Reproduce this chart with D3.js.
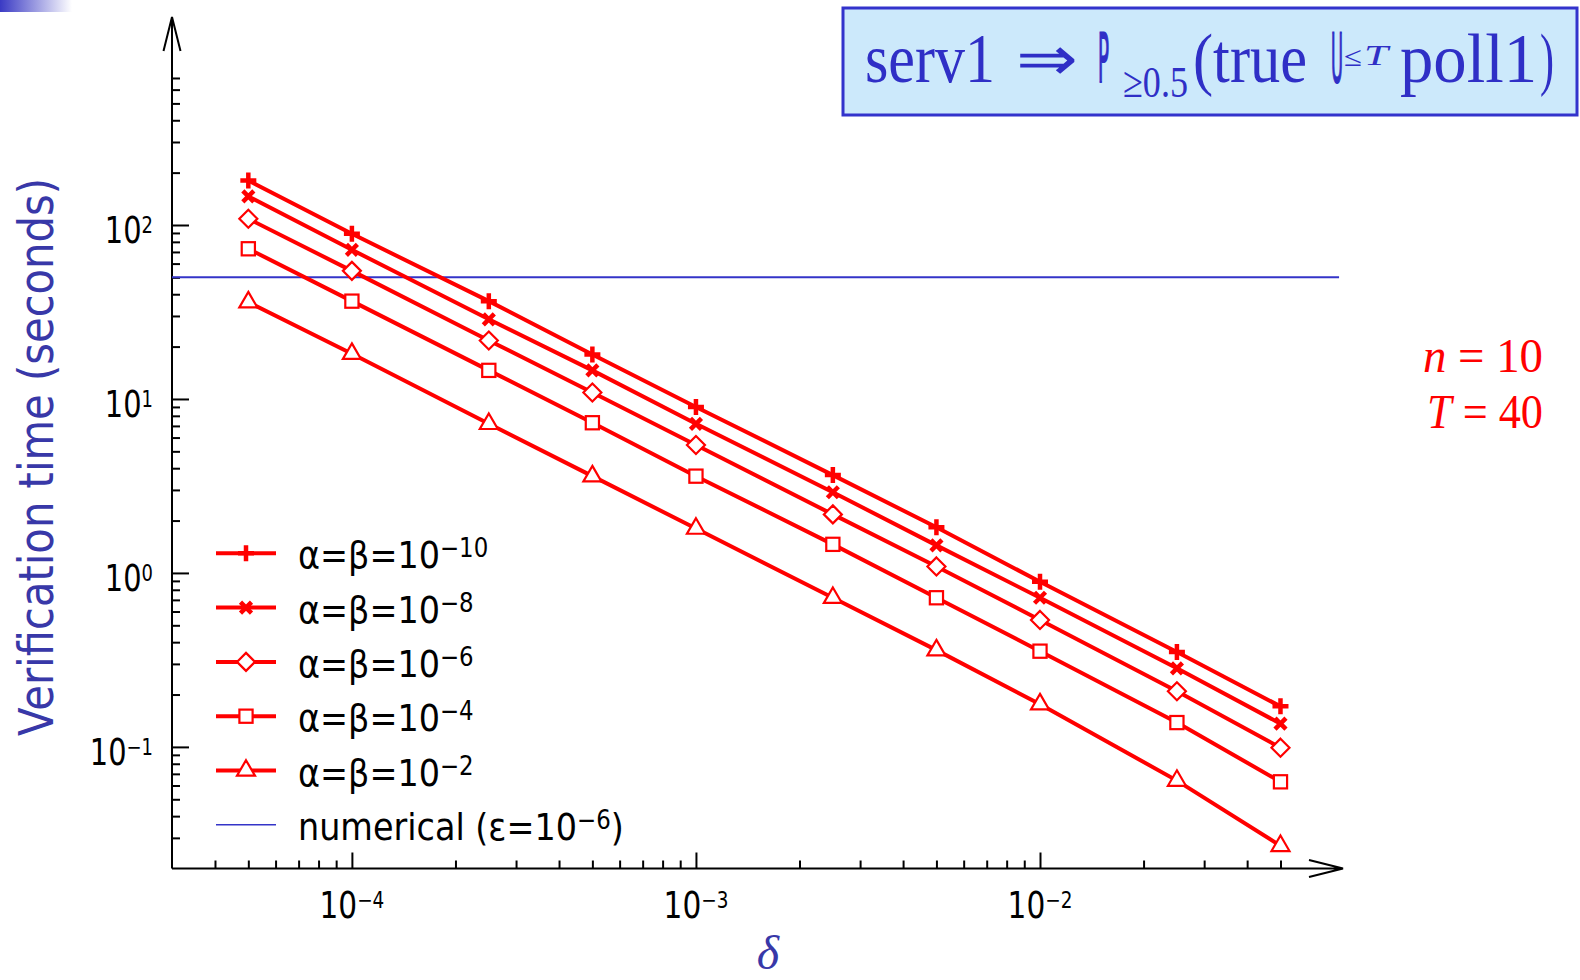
<!DOCTYPE html>
<html>
<head>
<meta charset="utf-8">
<script src="https://cdn.jsdelivr.net/npm/d3@7"></script>
<style>
  body { margin: 0; background: #fff; }
  svg { display: block; }
</style>
</head>
<body>
<svg id="chart" width="1580" height="980"></svg>
<script>
// delta values on the x axis
const deltas = [5e-5, 1e-4, 2.5e-4, 5e-4, 1e-3, 2.5e-3, 5e-3, 1e-2, 2.5e-2, 5e-2]

// verification time (seconds), one list per alpha = beta
const timeA10 = [180, 89, 36.5, 18.0, 9.0, 3.65, 1.83, 0.89, 0.351, 0.171]
const timeA8 = [146, 72, 28.7, 14.6, 7.2, 2.91, 1.44, 0.72, 0.283, 0.136]
const timeA6 = [108.6, 54.5, 21.7, 10.9, 5.44, 2.17, 1.09, 0.537, 0.209, 0.099]
const timeA4 = [73, 36.5, 14.6, 7.3, 3.6, 1.46, 0.72, 0.355, 0.138, 0.063]
const timeA2 = [36, 18.2, 7.2, 3.6, 1.8, 0.72, 0.36, 0.176, 0.064, 0.027]

const seriesExps = ['−10', '−8', '−6', '−4', '−2']
const seriesMarkers = ['plus', 'cross', 'diamond', 'square', 'triangle']

// numerical method, constant time
const numericalTime = 50
const numericalRange = [3e-5, 0.074]

const xMajorTicks = [1e-4, 1e-3, 1e-2]
const xMajorExps = ['−4', '−3', '−2']
const xMinorTicks = [4e-5, 5e-5, 6e-5, 7e-5, 8e-5, 9e-5,
    2e-4, 3e-4, 4e-4, 5e-4, 6e-4, 7e-4, 8e-4, 9e-4,
    2e-3, 3e-3, 4e-3, 5e-3, 6e-3, 7e-3, 8e-3, 9e-3,
    2e-2, 3e-2, 4e-2, 5e-2]

const yMajorTicks = [0.1, 1, 10, 100]
const yMajorExps = ['−1', '0', '1', '2']
const yMinorTicks = [0.03, 0.04, 0.05, 0.06, 0.07, 0.08, 0.09,
    0.2, 0.3, 0.4, 0.5, 0.6, 0.7, 0.8, 0.9,
    2, 3, 4, 5, 6, 7, 8, 9,
    20, 30, 40, 50, 60, 70, 80, 90,
    200, 300, 400, 500, 600, 700]

const series = [timeA10, timeA8, timeA6, timeA4, timeA2]

const red = '#ff0000'
const blueLine = '#3434c8'
const blueText = '#3838a8'
const sans = 'DejaVu Sans, Verdana, sans-serif'
const serif = 'Liberation Serif, Times New Roman, serif'

const svg = d3.select('#chart')

const x = d3.scaleLog().domain([3e-5, 1e-2]).range([172, 1040])
const y = d3.scaleLog().domain([0.02, 100]).range([868.5, 225])
const xEnd = 1343
const yTop = 17

// shrink a text horizontally so it takes the given width
function fitWidth(text, width) {
    const w = text.node().getComputedTextLength()
    const t = text.attr('transform') || ''
    text.attr('transform', t + ` scale(${width / w},1)`)
    return text
}

// top-left slide decoration
const grad = svg.append('defs').append('linearGradient').attr('id', 'corner')
grad.append('stop').attr('offset', '0%').attr('stop-color', '#3a3ac4')
grad.append('stop').attr('offset', '100%').attr('stop-color', '#ffffff')
svg.append('rect').attr('x', 0).attr('y', 0).attr('width', 72).attr('height', 12)
    .attr('fill', 'url(#corner)')

// axes
const axes = svg.append('g')

const xMinor = d3.axisBottom(x).tickValues(xMinorTicks).tickSizeInner(-8).tickSizeOuter(0).tickFormat('')
const xMajor = d3.axisBottom(x).tickValues(xMajorTicks).tickSizeInner(-16).tickSizeOuter(0).tickFormat('')
const yMinor = d3.axisLeft(y).tickValues(yMinorTicks).tickSizeInner(-8).tickSizeOuter(0).tickFormat('')
const yMajor = d3.axisLeft(y).tickValues(yMajorTicks).tickSizeInner(-17).tickSizeOuter(0).tickFormat('')

const x0 = x.range()[0]
const y0 = y.range()[0]

;[xMinor, xMajor].forEach(a => {
    axes.append('g').attr('transform', `translate(0,${y0})`).call(a)
})
;[yMinor, yMajor].forEach(a => {
    axes.append('g').attr('transform', `translate(${x0},0)`).call(a)
})
axes.selectAll('.domain').remove()
axes.selectAll('.tick line').attr('stroke', '#000').attr('stroke-width', 2)

axes.append('path')
    .attr('d', `M${x0},${y0}H${xEnd}M${xEnd - 34},${y0 - 8.5}L${xEnd},${y0}L${xEnd - 34},${y0 + 8.5}`)
    .attr('fill', 'none').attr('stroke', '#000').attr('stroke-width', 2)
axes.append('path')
    .attr('d', `M${x0},${y0}V${yTop}M${x0 - 8.5},${yTop + 34}L${x0},${yTop}L${x0 + 8.5},${yTop + 34}`)
    .attr('fill', 'none').attr('stroke', '#000').attr('stroke-width', 2)

// tick labels 10^k
function powLabel(px, py, exp, anchor, sx) {
    const t = svg.append('text')
        .attr('transform', `translate(${px},${py}) scale(${sx},1)`)
        .attr('text-anchor', anchor)
        .attr('font-family', sans)
        .attr('font-size', 37)
        .attr('fill', '#000')
    t.append('tspan').text('10')
    t.append('tspan').attr('dy', -10).attr('font-size', 23).text(exp)
}
xMajorTicks.forEach((d, i) => powLabel(x(d), 918, xMajorExps[i], 'middle', 0.8))
yMajorTicks.forEach((d, i) => powLabel(153, y(d) + 18, yMajorExps[i], 'end', 0.78))

// numerical line
const plot = svg.append('g')
plot.append('line')
    .attr('x1', x(numericalRange[0])).attr('x2', x(numericalRange[1]))
    .attr('y1', y(numericalTime)).attr('y2', y(numericalTime))
    .attr('stroke', blueLine).attr('stroke-width', 2)

// markers
function drawMarker(g, type) {
    if (type === 'plus') {
        g.append('path').attr('d', 'M-8,0H8M0,-8V8')
            .attr('stroke', red).attr('stroke-width', 4.5).attr('fill', 'none')
    } else if (type === 'cross') {
        g.append('path').attr('d', 'M-5.5,-5.5L5.5,5.5M-5.5,5.5L5.5,-5.5')
            .attr('stroke', red).attr('stroke-width', 4.5).attr('fill', 'none')
    } else if (type === 'diamond') {
        g.append('path').attr('d', 'M0,-9L9,0L0,9L-9,0Z')
            .attr('stroke', red).attr('stroke-width', 2.2).attr('fill', '#fff')
    } else if (type === 'square') {
        g.append('rect').attr('x', -6.6).attr('y', -6.6).attr('width', 13.2).attr('height', 13.2)
            .attr('stroke', red).attr('stroke-width', 2.2).attr('fill', '#fff')
    } else {
        g.append('path').attr('d', 'M0,-10.3L9,5.2L-9,5.2Z')
            .attr('stroke', red).attr('stroke-width', 2.2).attr('fill', '#fff')
    }
}

const line = d3.line().x(d => x(d[0])).y(d => y(d[1]))

series.forEach((vals, si) => {
    const pts = deltas.map((d, i) => [d, vals[i]])
    plot.append('path').datum(pts)
        .attr('d', line)
        .attr('fill', 'none').attr('stroke', red).attr('stroke-width', 4)
    pts.forEach(p => {
        drawMarker(plot.append('g').attr('transform', `translate(${x(p[0])},${y(p[1])})`), seriesMarkers[si])
    })
})

// legend
const legend = svg.append('g')
const legX0 = 216, legX1 = 276, legTextX = 298, legY0 = 553.3, legDy = 54.3
seriesExps.forEach((e, i) => {
    const cy = legY0 + i * legDy
    legend.append('line').attr('x1', legX0).attr('x2', legX1).attr('y1', cy).attr('y2', cy)
        .attr('stroke', red).attr('stroke-width', 4)
    drawMarker(legend.append('g').attr('transform', `translate(${(legX0 + legX1) / 2},${cy})`), seriesMarkers[i])
    const t = legend.append('text')
        .attr('transform', `translate(${legTextX},${cy + 15}) scale(0.88,1)`)
        .attr('font-family', sans).attr('font-size', 38).attr('fill', '#000')
    t.append('tspan').text('α=β=10')
    t.append('tspan').attr('dy', -11).attr('font-size', 26).text(e)
})
{
    const cy = legY0 + 5 * legDy
    legend.append('line').attr('x1', legX0).attr('x2', legX1).attr('y1', cy).attr('y2', cy)
        .attr('stroke', blueLine).attr('stroke-width', 1.5)
    const t = legend.append('text')
        .attr('transform', `translate(${legTextX},${cy + 15}) scale(0.88,1)`)
        .attr('font-family', sans).attr('font-size', 38).attr('fill', '#000')
    t.append('tspan').text('numerical (ε=10')
    t.append('tspan').attr('dy', -11).attr('font-size', 26).text('−6')
    t.append('tspan').attr('dy', 11).text(')')
}

// axis titles
fitWidth(svg.append('text')
    .attr('transform', 'translate(53,457) rotate(-90)')
    .attr('text-anchor', 'middle')
    .attr('font-family', sans).attr('font-size', 48).attr('fill', blueText)
    .text('Verification time (seconds)'), 558)

svg.append('text')
    .attr('x', 768).attr('y', 969)
    .attr('text-anchor', 'middle')
    .attr('font-family', serif).attr('font-style', 'italic').attr('font-size', 48).attr('fill', blueText)
    .text('δ')

// parameters
const params = [
    { name: 'n', value: ' = 10', y: 372, x: 1423, w: 120 },
    { name: 'T', value: ' = 40', y: 428, x: 1427, w: 116 }
]
params.forEach(p => {
    const t = svg.append('text')
        .attr('transform', `translate(${p.x},${p.y})`)
        .attr('font-family', serif).attr('font-size', 48).attr('fill', red)
    t.append('tspan').attr('font-style', 'italic').text(p.name)
    t.append('tspan').text(p.value)
    fitWidth(t, p.w)
})

// formula box
const titleBlue = '#2f2fc6'
svg.append('rect')
    .attr('x', 843).attr('y', 8).attr('width', 734).attr('height', 107)
    .attr('fill', '#cce9fb').attr('stroke', '#3333cc').attr('stroke-width', 3)

const pieces = [
    { text: 'serv1', x: 865, y: 82, w: 130, size: 70, font: serif },
    { text: '⇒', x: 1016, y: 80, w: 62, size: 62, font: serif },
    { text: 'P', x: 1098, y: 82, w: 11, size: 68, font: sans, thin: true },
    { text: '≥0.5', x: 1123, y: 97, w: 65, size: 44, font: serif },
    { text: '(true', x: 1193, y: 82, w: 114, size: 70, font: serif },
    { text: 'U', x: 1331, y: 82, w: 12, size: 68, font: sans, thin: true },
    { text: '≤', x: 1344, y: 66, w: 18, size: 28, font: serif },
    { text: 'T', x: 1364, y: 65, w: 24, size: 30, font: serif, italic: true },
    { text: 'poll1', x: 1400, y: 82, w: 137, size: 70, font: serif },
    { text: ')', x: 1540, y: 82, w: 14, size: 70, font: serif }
]
pieces.forEach(p => {
    const t = svg.append('text')
        .attr('transform', `translate(${p.x},${p.y})`)
        .attr('font-family', p.font).attr('font-size', p.size)
        .attr('font-style', p.italic ? 'italic' : 'normal')
        .attr('fill', titleBlue)
        .text(p.text)
    if (p.thin) {
        // squeezed glyph: thicken the stems a little
        t.attr('stroke', titleBlue).attr('stroke-width', 1.4)
            .attr('vector-effect', 'non-scaling-stroke')
    }
    fitWidth(t, p.w)
})
</script>
</body>
</html>
